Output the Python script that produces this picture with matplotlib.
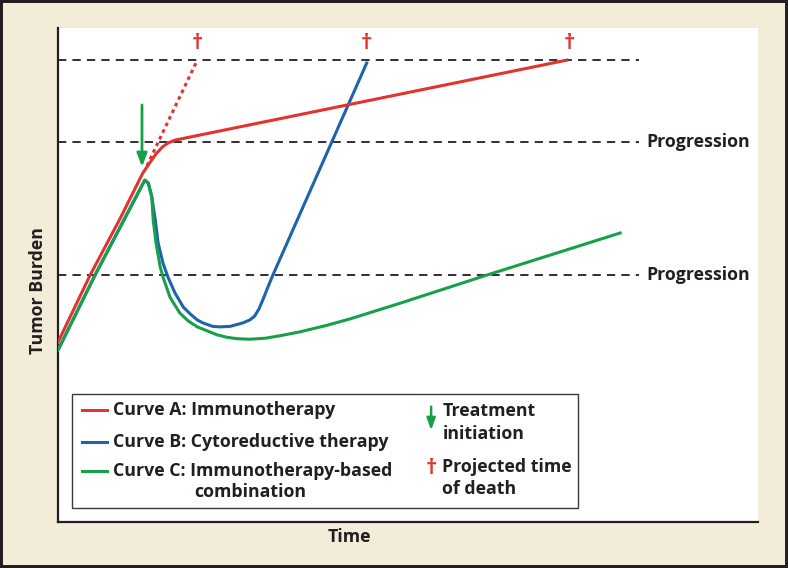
"""Tumor burden over time: immunotherapy vs cytoreductive vs combination."""

import matplotlib
matplotlib.use("Agg")
import matplotlib.pyplot as plt
from matplotlib.patches import Rectangle

plt.rcParams["font.family"] = ["Open Sans", "DejaVu Sans"]
plt.rcParams["font.weight"] = "bold"

# ── data (time 0-100, burden 0-100, arbitrary units) ─────────────
red_t = [0.0, 4.6, 8.9, 12.1, 13.1, 14.0, 14.9, 15.7, 16.7, 72.7]
red_b = [36.4, 50.0, 61.5, 70.6, 72.7, 74.5, 75.9, 76.7, 77.3, 93.5]

red_proj_t = [12.7, 19.9]
red_proj_b = [72.1, 93.5]

blue_t = [0.0, 5.3, 12.4, 12.9, 13.4, 13.9, 14.3, 15.0, 15.7, 16.7, 17.9,
          18.9, 19.9, 20.7, 22.1, 23.1, 24.6, 26.4, 27.4, 28.1, 28.7, 29.3,
          30.0, 30.7, 44.1]
blue_b = [34.8, 50.0, 69.2, 68.6, 65.8, 61.1, 56.5, 52.4, 49.6, 46.4, 43.5,
          42.1, 40.9, 40.3, 39.6, 39.5, 39.6, 40.3, 40.9, 41.7, 43.1, 45.1,
          47.6, 50.0, 92.9]

green_t = [0.0, 5.3, 12.4, 12.9, 13.4, 13.6, 14.0, 14.6, 15.0, 16.0, 17.4,
           18.6, 19.9, 22.7, 24.1, 25.6, 27.4, 29.6, 31.7, 34.6, 38.1, 41.7,
           45.3, 48.9, 61.3, 80.3]
green_b = [34.8, 50.0, 69.2, 68.6, 65.8, 61.1, 56.5, 51.6, 49.6, 45.5, 42.3,
           40.7, 39.5, 37.9, 37.4, 37.1, 37.0, 37.2, 37.7, 38.5, 39.7, 41.1,
           42.7, 44.3, 50.0, 58.5]

death_t = [19.9, 44.1, 73.0]
death_b = 96.8

treat_t = 12.0
treat_b = (85.0, 71.3)

death_level = 93.5
progression_levels = [76.9, 50.0]
dash_end = 83.0

legend_labels = ["Curve A: Immunotherapy",
                 "Curve B: Cytoreductive therapy",
                 "Curve C: Immunotherapy-based"]

RED = "#E2332F"
BLUE = "#1D63AE"
GREEN = "#17A04A"
DARK = "#231F20"
BEIGE = "#F3ECD9"
FS = 12.8

# ── figure ────────────────────────────────────────────────────────
fig = plt.figure(figsize=(7.88, 5.68), dpi=100, facecolor=BEIGE)
fig.patches.append(Rectangle((0, 0), 1, 1, transform=fig.transFigure,
                             facecolor="none", edgecolor=DARK, linewidth=4.3))

ax = fig.add_axes([58 / 788, 1 - 522 / 568, 700 / 788, 494 / 568])
ax.set_facecolor("white")
ax.set_xlim(0, 100)
ax.set_ylim(0, 100)
for side in ("top", "right"):
    ax.spines[side].set_visible(False)
for side in ("left", "bottom"):
    ax.spines[side].set_color(DARK)
    ax.spines[side].set_linewidth(1.6)
ax.set_xticks([])
ax.set_yticks([])

dash = (0, (4.6, 3.4))
for lvl in [death_level] + progression_levels:
    ax.plot([0, dash_end], [lvl, lvl], color=DARK, lw=1.3, linestyle=dash,
            zorder=1)
for lvl in progression_levels:
    ax.text(dash_end + 1.0, lvl, "Progression", fontsize=FS,
            color=DARK, va="center", ha="left")

# curves
ax.plot(blue_t, blue_b, color=BLUE, lw=2.2, zorder=3,
        solid_joinstyle="round")
ax.plot(green_t, green_b, color=GREEN, lw=2.2, zorder=4,
        solid_joinstyle="round")
ax.plot(red_proj_t, red_proj_b, color=RED, lw=2.2, linestyle=(0, (1.2, 1.2)),
        zorder=5)
ax.plot(red_t, red_b, color=RED, lw=2.2, zorder=6, solid_joinstyle="round")

for t in death_t:
    ax.text(t, death_b, "\u2020", color=RED, fontsize=16, ha="center",
            va="center")

ax.annotate("", xy=(treat_t, treat_b[1]), xytext=(treat_t, treat_b[0]),
            arrowprops=dict(arrowstyle="-|>,head_length=0.8,head_width=0.3",
                            color=GREEN, lw=2.0), zorder=7)

# ── legend box (drawn by hand) ────────────────────────────────────
ax.add_patch(Rectangle((2.0, 2.8), 72.3, 23.1, facecolor="white",
                       edgecolor="#3a3a3a", lw=1.0, zorder=8))
for color, y, label in zip([RED, BLUE, GREEN], [22.7, 16.2, 10.3],
                           legend_labels):
    ax.plot([3.4, 7.0], [y, y], color=color, lw=2.2, zorder=9)
    ax.text(7.8, y, label, fontsize=FS, color=DARK, va="center",
            ha="left", zorder=9)
ax.text(19.4, 6.1, "combination", fontsize=FS, color=DARK, va="center",
        ha="left", zorder=9)

ax.annotate("", xy=(53.3, 18.0), xytext=(53.3, 23.9),
            arrowprops=dict(arrowstyle="-|>,head_length=0.7,head_width=0.25",
                            color=GREEN, lw=1.8), zorder=9)
ax.text(54.9, 22.5, "Treatment", fontsize=FS, color=DARK, va="center",
        ha="left", zorder=9)
ax.text(54.9, 17.8, "initiation", fontsize=FS, color=DARK, va="center",
        ha="left", zorder=9)
ax.text(53.3, 10.9, "\u2020", color=RED, fontsize=16, ha="center",
        va="center", zorder=9)
ax.text(54.9, 11.1, "Projected time", fontsize=FS, color=DARK,
        va="center", ha="left", zorder=9)
ax.text(54.9, 6.7, "of death", fontsize=FS, color=DARK, va="center",
        ha="left", zorder=9)

# axis labels placed where the original sits
fig.text(38 / 788, 1 - 291 / 568, "Tumor Burden", rotation=90, fontsize=FS,
         color=DARK, ha="center", va="center")
fig.text(349 / 788, 1 - 537 / 568, "Time", fontsize=FS,
         color=DARK, ha="center", va="center")

fig.savefig("out.png", dpi=100, facecolor=BEIGE)
